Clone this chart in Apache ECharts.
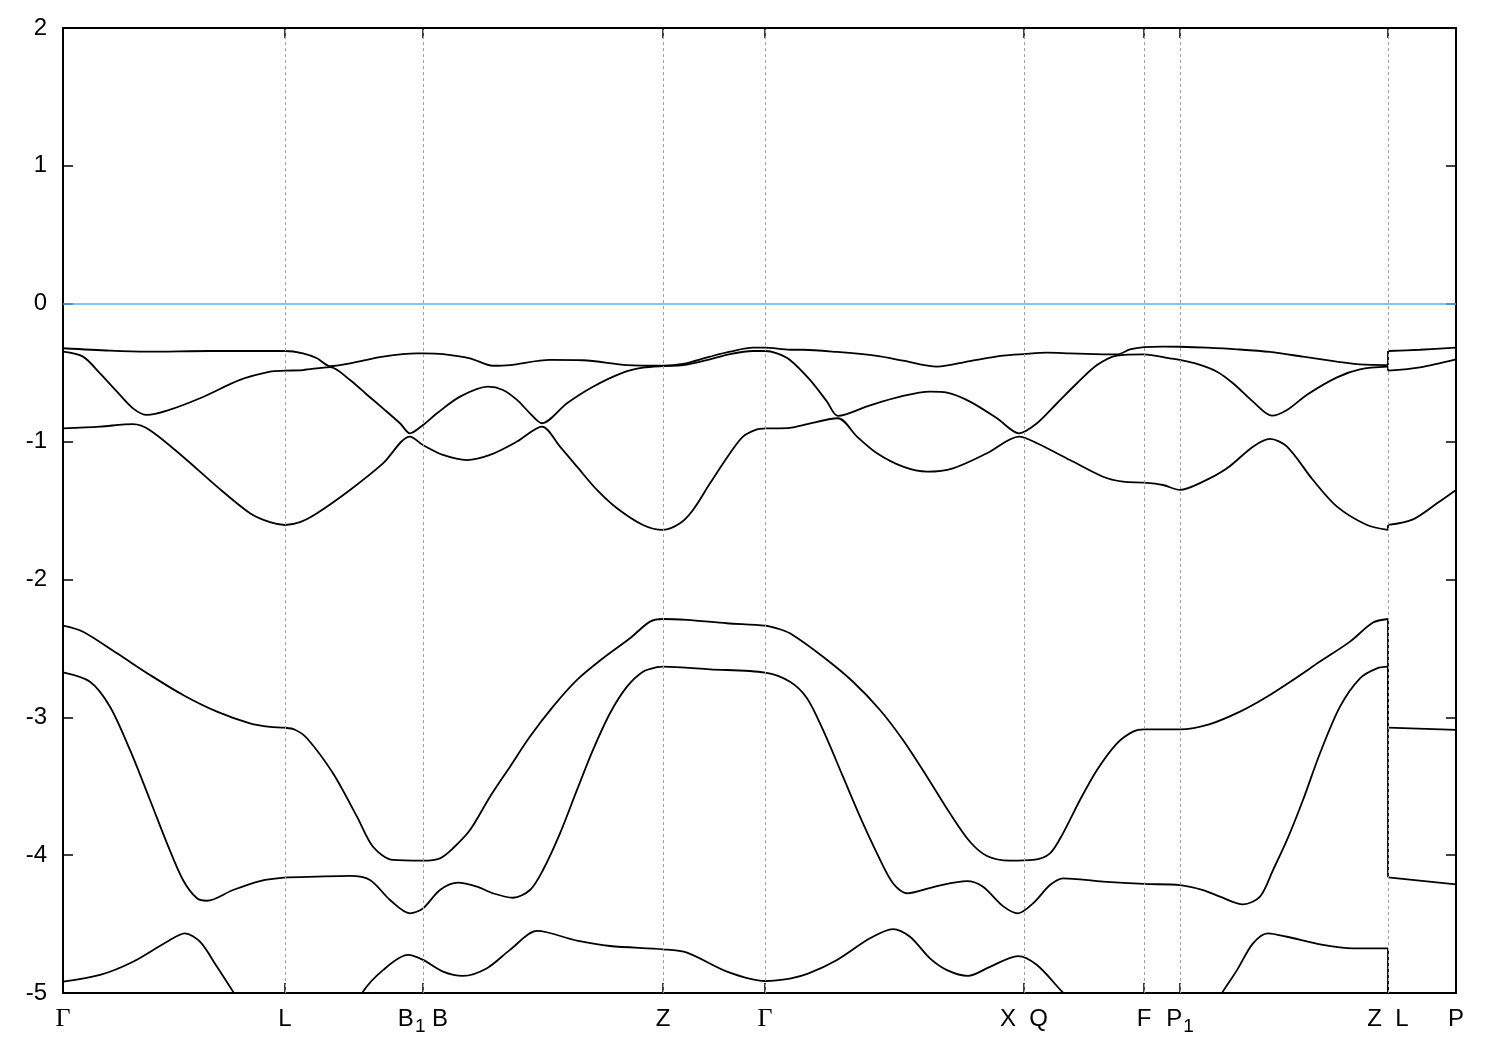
<!DOCTYPE html>
<html><head><meta charset="utf-8">
<script src="https://cdn.jsdelivr.net/npm/echarts@6/dist/echarts.min.js"></script>
<style>html,body{margin:0;padding:0;background:#fff}#c{width:1500px;height:1050px}</style>
</head><body><div id="c"></div>
<script>
// high-symmetry points along the k-path (path distance units)
const kTicks  = [0, 222, 360, 600, 702, 961, 1081, 1117, 1325, 1393];
const kLabels = ['Γ', 'L', 'B_1 B', 'Z', 'Γ', 'X  Q', 'F', 'P_1', 'Z  L', 'P'];
const yTicks  = [-5, -4, -3, -2, -1, 0, 1, 2];

// bands, energy (eV) vs path distance; repeated k marks the Z|L discontinuity
const band1 = [[0,-0.323],[47,-0.341],[84,-0.348],[147,-0.343],[222,-0.343],[240,-0.36],[254,-0.396],[267,-0.452],[287,-0.432],[320,-0.384],[354,-0.36],[360,-0.36],[380,-0.365],[407,-0.396],[430,-0.45],[447,-0.445],[487,-0.408],[520,-0.41],[564,-0.445],[600,-0.45],[620,-0.437],[647,-0.384],[667,-0.348],[690,-0.319],[702,-0.319],[727,-0.334],[740,-0.334],[774,-0.35],[814,-0.379],[840,-0.413],[874,-0.457],[907,-0.416],[940,-0.377],[961,-0.365],[984,-0.355],[1007,-0.36],[1040,-0.367],[1054,-0.368],[1067,-0.332],[1081,-0.315],[1100,-0.311],[1117,-0.312],[1144,-0.319],[1174,-0.331],[1207,-0.35],[1240,-0.384],[1274,-0.42],[1297,-0.44],[1325,-0.445],[1325,-0.343],[1357,-0.334],[1393,-0.319]];
const band2 = [[0,-0.348],[20,-0.384],[37,-0.505],[54,-0.638],[70,-0.759],[84,-0.807],[104,-0.776],[137,-0.686],[177,-0.553],[207,-0.493],[222,-0.486],[240,-0.481],[267,-0.46],[287,-0.553],[304,-0.66],[320,-0.759],[337,-0.867],[347,-0.94],[360,-0.88],[374,-0.795],[397,-0.674],[425,-0.602],[440,-0.626],[454,-0.698],[467,-0.795],[479,-0.867],[504,-0.722],[530,-0.602],[560,-0.5],[580,-0.464],[600,-0.452],[620,-0.446],[647,-0.403],[667,-0.365],[690,-0.343],[702,-0.343],[714,-0.36],[727,-0.408],[747,-0.553],[764,-0.71],[775,-0.814],[807,-0.737],[840,-0.669],[867,-0.638],[884,-0.645],[907,-0.71],[934,-0.831],[956,-0.94],[974,-0.867],[994,-0.722],[1014,-0.577],[1034,-0.445],[1054,-0.376],[1081,-0.367],[1107,-0.396],[1117,-0.408],[1134,-0.437],[1154,-0.493],[1170,-0.577],[1190,-0.71],[1209,-0.812],[1224,-0.771],[1244,-0.66],[1274,-0.534],[1297,-0.476],[1325,-0.457],[1325,-0.486],[1357,-0.461],[1393,-0.403]];
const band3 = [[0,-0.905],[37,-0.891],[70,-0.873],[87,-0.917],[120,-1.11],[154,-1.327],[187,-1.52],[207,-1.585],[222,-1.605],[237,-1.585],[254,-1.52],[287,-1.351],[320,-1.158],[347,-0.964],[360,-1.025],[380,-1.097],[404,-1.134],[427,-1.097],[454,-1.0],[479,-0.891],[497,-1.037],[514,-1.182],[534,-1.351],[554,-1.484],[580,-1.605],[600,-1.641],[617,-1.593],[630,-1.496],[647,-1.303],[667,-1.085],[680,-0.964],[694,-0.911],[702,-0.905],[727,-0.9],[740,-0.88],[775,-0.831],[794,-0.964],[814,-1.085],[840,-1.182],[864,-1.218],[890,-1.194],[924,-1.085],[956,-0.964],[974,-1.012],[1007,-1.134],[1040,-1.255],[1060,-1.291],[1081,-1.298],[1100,-1.315],[1117,-1.351],[1140,-1.291],[1164,-1.194],[1190,-1.037],[1207,-0.981],[1224,-1.037],[1250,-1.279],[1274,-1.472],[1304,-1.605],[1325,-1.641],[1325,-1.605],[1350,-1.564],[1374,-1.448],[1393,-1.351]];
const band4 = [[0,-2.335],[20,-2.379],[54,-2.536],[87,-2.693],[120,-2.838],[154,-2.959],[187,-3.044],[207,-3.07],[221,-3.075],[232,-3.09],[244,-3.152],[270,-3.406],[294,-3.721],[310,-3.939],[330,-4.035],[360,-4.04],[377,-4.023],[390,-3.95],[407,-3.818],[427,-3.576],[447,-3.358],[467,-3.14],[490,-2.923],[514,-2.729],[540,-2.572],[567,-2.427],[587,-2.306],[600,-2.287],[624,-2.294],[664,-2.318],[702,-2.335],[714,-2.355],[727,-2.391],[760,-2.561],[790,-2.742],[817,-2.947],[840,-3.165],[864,-3.431],[887,-3.697],[907,-3.903],[924,-4.006],[947,-4.04],[970,-4.035],[987,-3.987],[1000,-3.842],[1017,-3.6],[1034,-3.382],[1054,-3.189],[1070,-3.104],[1081,-3.087],[1117,-3.087],[1147,-3.049],[1177,-2.959],[1204,-2.851],[1230,-2.729],[1257,-2.596],[1287,-2.451],[1310,-2.313],[1325,-2.287],[1325,-3.075],[1393,-3.092]];
const band5 = [[0,-2.674],[27,-2.742],[47,-2.923],[67,-3.237],[87,-3.6],[104,-3.914],[120,-4.18],[134,-4.313],[144,-4.331],[170,-4.253],[197,-4.188],[221,-4.163],[254,-4.156],[287,-4.151],[307,-4.18],[327,-4.325],[347,-4.422],[360,-4.386],[377,-4.253],[395,-4.2],[414,-4.229],[430,-4.277],[450,-4.309],[467,-4.253],[480,-4.108],[497,-3.842],[514,-3.527],[530,-3.237],[547,-2.971],[564,-2.778],[580,-2.669],[594,-2.637],[600,-2.633],[647,-2.652],[702,-2.676],[727,-2.742],[744,-2.862],[760,-3.092],[780,-3.431],[797,-3.721],[814,-3.987],[830,-4.204],[844,-4.277],[874,-4.224],[904,-4.188],[920,-4.229],[940,-4.37],[955,-4.422],[970,-4.35],[987,-4.217],[1000,-4.168],[1040,-4.192],[1081,-4.209],[1117,-4.217],[1140,-4.253],[1157,-4.301],[1180,-4.357],[1197,-4.301],[1210,-4.108],[1224,-3.89],[1240,-3.6],[1257,-3.261],[1277,-2.923],[1297,-2.717],[1314,-2.645],[1325,-2.633],[1325,-4.161],[1393,-4.212]];
const band6 = [[0,-4.918],[37,-4.869],[70,-4.773],[104,-4.628],[122,-4.567],[137,-4.628],[154,-4.81],[170,-4.99],[197,-5.3],[237,-5.45],[277,-5.3],[299,-5.0],[320,-4.834],[345,-4.724],[360,-4.76],[380,-4.845],[400,-4.876],[424,-4.82],[447,-4.687],[474,-4.55],[514,-4.62],[547,-4.659],[600,-4.683],[624,-4.707],[664,-4.845],[702,-4.913],[727,-4.895],[745,-4.86],[774,-4.76],[807,-4.603],[830,-4.536],[847,-4.592],[867,-4.749],[884,-4.834],[905,-4.876],[927,-4.81],[955,-4.732],[974,-4.797],[999,-4.99],[1027,-5.2],[1081,-5.4],[1117,-5.4],[1142,-5.2],[1159,-5.0],[1174,-4.834],[1190,-4.64],[1205,-4.567],[1224,-4.592],[1257,-4.647],[1290,-4.676],[1325,-4.676],[1325,-5.5],[1393,-5.5]];
const bands = [band1, band2, band3, band4, band5, band6];

function richLabel(lbl) {
  if (lbl === 'Γ') return '{g|Γ}';
  return lbl.split(/(_\d)/).filter(Boolean)
    .map(p => p[0] === '_' ? '{s|' + p.slice(1) + '}' : '{n|' + p + '}').join('');
}
function splitBand(b) {
  for (let i = 1; i < b.length; i++) {
    if (b[i][0] === b[i - 1][0]) return [b.slice(0, i), b.slice(i), [b[i - 1], b[i]]];
  }
  return [b];
}

const series = [];
series.push({
  type: 'line', data: [], z: 1, silent: true,
  markLine: {
    symbol: 'none', silent: true, animation: false, label: { show: false },
    data: kTicks.slice(1, -1).map(k => ({ xAxis: k, lineStyle: { color: '#a0a0a0', type: [3, 3], width: 1 } }))
      .concat([{ yAxis: 0, lineStyle: { color: '#56b4e9', type: 'solid', width: 1.5 } }])
  }
});
bands.forEach(b => {
  splitBand(b).forEach((part, j) => {
    series.push({
      type: 'line', data: part, z: 3, silent: true,
      showSymbol: false, smooth: j === 2 ? false : 0.3,
      lineStyle: { color: '#000', width: 1.8 }, clip: true
    });
  });
});

const axisLineStyle = { show: true, onZero: false, lineStyle: { color: '#000', width: 2 } };
const tickStyle = { show: true, inside: true, length: 10, lineStyle: { color: '#000', width: 1.5 } };
const chart = echarts.init(document.getElementById('c'), null, { renderer: 'canvas' });
chart.setOption({
  animation: false,
  backgroundColor: '#fff',
  grid: { left: 63, right: 44, top: 28, bottom: 57 },
  xAxis: [{
    type: 'value', min: kTicks[0], max: kTicks[kTicks.length - 1], position: 'bottom',
    axisLine: axisLineStyle,
    axisTick: Object.assign({ customValues: kTicks }, tickStyle),
    splitLine: { show: false },
    axisLabel: {
      show: true, customValues: kTicks, margin: 14,
      formatter: v => richLabel(kLabels[kTicks.indexOf(v)]),
      rich: {
        n: { fontSize: 24, fontFamily: 'Liberation Sans, Arial', color: '#000', lineHeight: 24 },
        g: { fontSize: 26, fontFamily: 'Liberation Serif, serif', color: '#000', lineHeight: 24 },
        s: { fontSize: 19, fontFamily: 'Liberation Sans, Arial', color: '#000', padding: [15, 0, 0, 1], lineHeight: 20 }
      }
    }
  }, {
    type: 'value', min: kTicks[0], max: kTicks[kTicks.length - 1], position: 'top',
    axisLine: axisLineStyle,
    axisTick: Object.assign({ customValues: kTicks }, tickStyle),
    axisLabel: { show: false }, splitLine: { show: false }
  }],
  yAxis: [{
    type: 'value', min: yTicks[0], max: yTicks[yTicks.length - 1], interval: 1, position: 'left',
    axisLine: axisLineStyle, axisTick: tickStyle,
    splitLine: { show: false },
    axisLabel: { margin: 16, fontSize: 24, fontFamily: 'Liberation Sans, Arial', color: '#000' }
  }, {
    type: 'value', min: yTicks[0], max: yTicks[yTicks.length - 1], interval: 1, position: 'right',
    axisLine: axisLineStyle, axisTick: tickStyle,
    splitLine: { show: false }, axisLabel: { show: false }
  }],
  series: series
});
</script></body></html>
